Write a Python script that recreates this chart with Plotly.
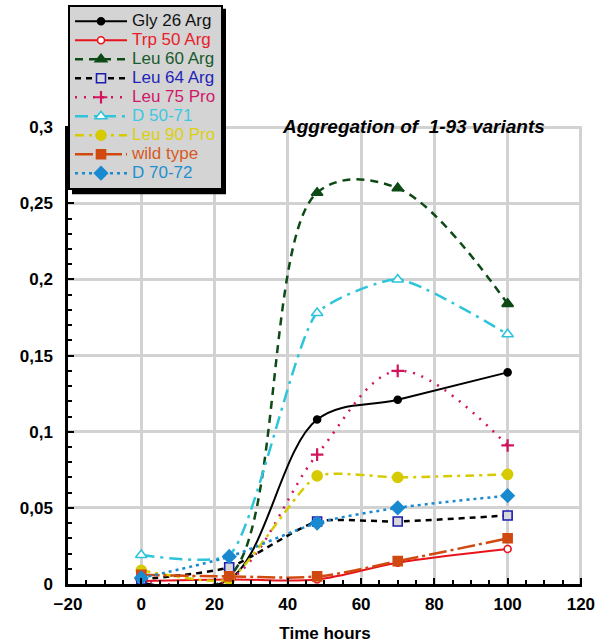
import plotly.graph_objects as go

# ---- data ----
hours = [0, 24, 48, 70, 100]
gly26arg = [0.001, 0.003, 0.108, 0.121, 0.139]
trp50arg = [0.002, 0.003, 0.003, 0.014, 0.023]
leu60arg = [0.000, 0.005, 0.257, 0.260, 0.184]
leu64arg = [0.003, 0.011, 0.041, 0.041, 0.045]
leu75pro = [0.003, 0.003, 0.085, 0.140, 0.091]
d5071 = [0.019, 0.019, 0.178, 0.200, 0.164]
leu90pro = [0.009, 0.003, 0.071, 0.070, 0.072]
wildtype = [0.006, 0.005, 0.005, 0.015, 0.030]
d7072 = [0.004, 0.018, 0.040, 0.050, 0.058]

y_tickvals = [0, 0.05, 0.1, 0.15, 0.2, 0.25, 0.3]
y_ticktext = ["0", "0,05", "0,1", "0,15", "0,2", "0,25", "0,3"]
x_tickvals = [-20, 0, 20, 40, 60, 80, 100, 120]

FONT = "Liberation Sans, Arial, sans-serif"

series = [
    # name, values, line colour, text colour, dash, width, smoothing, marker symbol, size, fill, marker line colour
    ("Gly 26 Arg", gly26arg, "#000000", "#111111", "solid", 2, 1.0, "circle", 7, "#000000", "#000000"),
    ("Trp 50 Arg", trp50arg, "#e8141c", "#e8202a", "solid", 2, 1.0, "circle", 7, "#ffffff", "#e8141c"),
    ("Leu 60 Arg", leu60arg, "#0e4a16", "#185a2c", "8px,6px", 2.5, 1.0, "triangle-up", 10, "#0e4a16", "#0e4a16"),
    ("Leu 64 Arg", leu64arg, "#000000", "#2424b8", "6px,5px", 2.5, 0.6, "square", 9, "#d8d8d8", "#1c1cb0"),
    ("Leu 75 Pro", leu75pro, "#d0145e", "#d0186a", "2px,7px", 2.5, 1.0, "cross-thin", 9, "#d0145e", "#d0145e"),
    ("D 50-71", d5071, "#2ec4da", "#3cc8e0", "13px,6px,3px,6px", 2.5, 0.55, "triangle-up", 10, "#ffffff", "#2ec4da"),
    ("Leu 90 Pro", leu90pro, "#d6ca00", "#dccf10", "9px,5px,3px,5px", 2.5, 0.5, "circle", 10, "#d6ca00", "#d6ca00"),
    ("wild type", wildtype, "#d04a10", "#d85a24", "18px,4px,3px,4px", 2.5, 1.0, "square", 9, "#d04a10", "#d04a10"),
    ("D 70-72", d7072, "#1a8ad0", "#2090d0", "3px,4px", 2.5, 0.8, "diamond", 10, "#1a8ad0", "#1a8ad0"),
]

fig = go.Figure()
for name, vals, lc, tc, dash, w, sm, sym, ms, mfill, mline in series:
    fig.add_trace(go.Scatter(
        x=hours, y=vals, mode="lines+markers",
        name=f'<span style="color:{tc};font-size:17px">{name}</span>',
        line=dict(color=lc, width=w, dash=dash, shape="spline", smoothing=sm),
        marker=dict(symbol=sym, size=ms, color=mfill,
                    line=dict(color=mline, width=1.6 if sym != "cross-thin" else 2.2)),
    ))

axis_common = dict(
    showgrid=True, gridcolor="#d2d2d2", gridwidth=2.5,
    zeroline=False, showline=True, linecolor="#000000", linewidth=2.5,
    ticks="inside", ticklen=6, tickwidth=2, tickcolor="#000000",
    tickfont=dict(family=FONT, size=17, color="#000000", weight="bold"),
    automargin=False,
)

fig.update_xaxes(
    range=[-20, 120.3], tickvals=x_tickvals, ticklabelstandoff=3,
    minor=dict(ticks="inside", dtick=5, ticklen=4, tickwidth=1.5, tickcolor="#000000", showgrid=False),
    title=dict(text="<b>Time hours</b>", font=dict(family=FONT, size=17, color="#000000"), standoff=14),
    **axis_common,
)
fig.update_yaxes(
    range=[0, 0.3008], tickvals=y_tickvals, ticktext=y_ticktext, ticklabelstandoff=9,
    minor=dict(ticks="inside", dtick=0.01, ticklen=4, tickwidth=1.5, tickcolor="#000000", showgrid=False),
    **axis_common,
)

fig.add_annotation(
    xref="paper", yref="paper", x=0.673, y=1.0, xanchor="center", yanchor="middle",
    text="<b><i>Aggregation of  1-93 variants</i></b>", showarrow=False,
    font=dict(family=FONT, size=19, color="#000000"),
)

# legend drop shadow
fig.add_shape(type="rect", xref="paper", yref="paper", layer="above",
              x0=4 / 514, x1=158 / 514, y0=1 - 68 / 457, y1=1 + 117 / 457,
              fillcolor="#000000", line=dict(width=0))

fig.update_layout(
    width=606, height=643,
    margin=dict(l=68, r=24, t=126, b=59, autoexpand=False),
    paper_bgcolor="#ffffff", plot_bgcolor="#ffffff",
    showlegend=True,
    legend=dict(
        x=0, y=1 + 121 / 457, xanchor="left", yanchor="top",
        bgcolor="#d4d4d4", bordercolor="#000000", borderwidth=2,
        font=dict(family=FONT, size=12, color="#000000"),
        itemwidth=52, tracegroupgap=0,
    ),
)

fig.write_html("out.html")
